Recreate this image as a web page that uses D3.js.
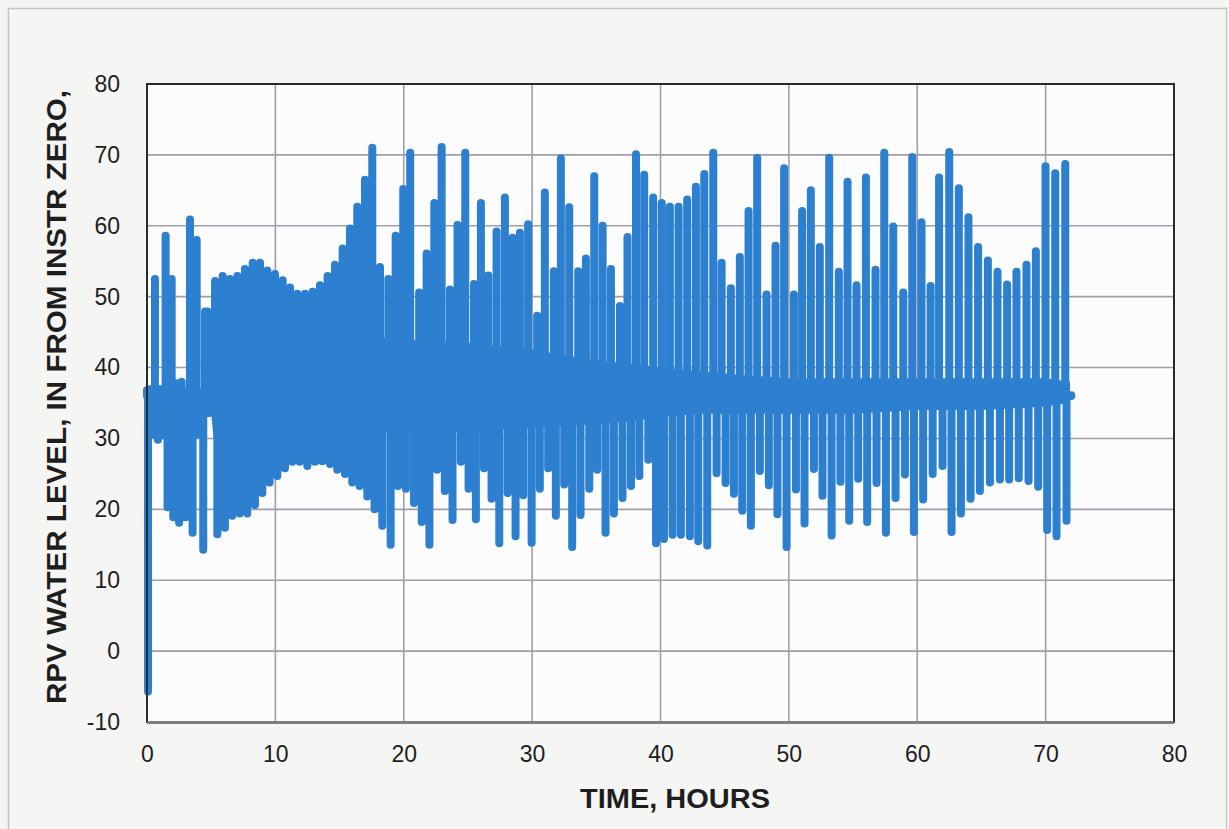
<!DOCTYPE html>
<html>
<head>
<meta charset="utf-8">
<script src="https://cdn.jsdelivr.net/npm/d3@7"></script>
<style>
    html, body { margin: 0; padding: 0; background: #f5f5f3; }
    svg { display: block; }
</style>
</head>
<body>
<div id="chart"></div>
<script>
// turning points of the water level trace (hours, inches)
var levelTimes = [
    0, 0.08, 0.62, 0.85, 1.25, 1.45, 1.6, 1.92, 2.05, 2.3, 2.5, 2.7, 3.0, 3.35, 3.55, 3.87, 4.38, 4.52, 4.62, 4.72, 4.85,
    5.30, 5.48, 5.89, 6.07, 6.46, 6.64, 7.04, 7.22, 7.63, 7.81, 8.23, 8.41, 8.80, 8.98, 9.37, 9.55, 9.97, 10.15,
    10.57, 10.75, 11.14, 11.32, 11.71, 11.89, 12.31, 12.49, 12.90, 13.08, 13.47, 13.65, 14.07, 14.25, 14.64, 14.82,
    15.24, 15.42, 15.81, 15.99, 16.38, 16.56, 16.98, 17.16, 17.55, 17.73, 18.15, 18.33, 18.80, 18.98, 19.37, 19.55,
    19.96, 20.17, 20.5, 20.8, 21.2, 21.4, 21.78, 22.0, 22.38, 22.6, 22.95, 23.2, 23.6, 23.8, 24.19, 24.45,
    24.79, 25.05, 25.47, 25.62, 26.01, 26.25, 26.58, 26.84, 27.23, 27.44, 27.88, 28.09, 28.48, 28.71, 29.05, 29.31,
    29.69, 29.96, 30.39, 30.6, 30.99, 31.25, 31.69, 31.85, 32.24, 32.5, 32.89, 33.12, 33.59, 33.77, 34.19, 34.45,
    34.84, 35.07, 35.49, 35.72, 36.14, 36.37, 36.84, 37.04, 37.43, 37.7, 38.09, 38.35, 38.73, 39.05, 39.43, 39.65,
    40.1, 40.27, 40.73, 40.94, 41.41, 41.59, 42.08, 42.29, 42.76, 42.94, 43.41, 43.64, 44.11, 44.37, 44.76, 45.07,
    45.48, 45.72, 46.18, 46.37, 46.86, 47.04, 47.53, 47.74, 48.26, 48.44, 48.96, 49.11, 49.63, 49.82, 50.39, 50.55,
    51.03, 51.22, 51.71, 51.95, 52.41, 52.62, 53.14, 53.33, 53.89, 54.02, 54.57, 54.70, 55.27, 55.40, 56.0, 56.1,
    56.75, 56.83, 57.43, 57.56, 58.13, 58.31, 58.91, 59.04, 59.61, 59.74, 60.33, 60.46, 61.04, 61.2, 61.7, 61.97,
    62.49, 62.67, 63.24, 63.4, 63.99, 64.15, 64.74, 64.88, 65.5, 65.66, 66.25, 66.44, 67.0, 67.16, 67.73, 67.91,
    68.51, 68.67, 69.24, 69.42, 69.99, 70.12, 70.75, 70.85, 71.53, 71.63, 72.0
];
var levelValues = [
    36.8, -5.7, 52.5, 29.8, 36, 58.6, 20.3, 52.5, 18.9, 37.8, 18.1, 38, 18.9, 60.9, 16.7, 58, 14.3, 47.9, 33.6, 47.9, 33.6,
    52.2, 16.5, 52.9, 17.4, 52.5, 19.1, 52.9, 19.4, 53.9, 19.4, 54.8, 20.6, 54.8, 22.3, 53.7, 23.8, 53.2, 24.7,
    52.3, 25.8, 51.3, 26.7, 50.4, 26.7, 50.4, 26.1, 50.7, 26.7, 51.6, 26.8, 52.9, 26.4, 54.5, 25.6,
    56.8, 25.0, 59.6, 23.8, 62.7, 23.3, 66.5, 21.8, 71.0, 20.0, 54.2, 17.7, 52.5, 15.0, 58.6, 23.3,
    65.2, 22.9, 70.3, 20.9, 50.6, 18.2, 56.1, 15.0, 63.2, 25.6, 71.1, 22.6, 51.0, 18.5, 60.1, 26.7,
    70.3, 22.9, 51.8, 18.6, 63.2, 25.8, 53.0, 21.5, 59.2, 15.2, 64.0, 22.3, 58.3, 16.2, 59.0, 22.0,
    60.2, 15.3, 47.3, 22.9, 64.7, 25.8, 53.6, 19.1, 69.5, 23.5, 62.6, 14.7, 53.6, 19.2, 55.4, 22.9,
    67.0, 25.6, 60.0, 16.7, 53.9, 19.4, 48.7, 21.6, 58.4, 23.3, 70.1, 24.7, 67.2, 27.0, 64.0, 15.2,
    63.2, 15.8, 62.7, 16.4, 62.7, 16.4, 63.7, 16.2, 65.5, 15.5, 67.3, 14.9, 70.3, 25.1, 54.8, 23.7,
    51.2, 22.2, 55.6, 19.8, 62.1, 17.7, 69.6, 25.4, 50.3, 23.4, 57.2, 19.3, 68.1, 14.7, 50.3, 22.8,
    62.1, 18.0, 65.0, 25.7, 57.0, 21.9, 69.6, 16.3, 53.5, 23.9, 66.2, 18.4, 51.6, 24.3, 66.8, 18.2,
    53.8, 23.7, 70.3, 16.7, 59.9, 21.6, 50.6, 24.9, 69.7, 16.8, 60.5, 21.4, 51.5, 25.0, 66.8, 26.1,
    70.4, 16.8, 65.3, 19.4, 61.2, 21.5, 57.0, 22.6, 55.1, 23.8, 53.5, 24.2, 51.7, 24.2, 53.5, 24.4,
    54.5, 24.0, 56.4, 23.2, 68.4, 17.1, 67.4, 16.2, 68.7, 18.4, 36.1
];
// level the trace keeps coming back to between excursions
var restLevel = 36;

// the dense middle band where the fast oscillation fills in solid
var bandTimes = [0.1, 1, 2, 3, 4.5, 4.7, 5.0, 5.3, 7, 9, 11, 13, 15, 17, 20, 25, 30, 35, 38, 40, 43, 46, 50, 55, 60, 65, 70, 71.9];
var bandLow   = [30, 30, 29.5, 30, 30, 33.5, 33.5, 28, 28, 29, 30, 30.5, 30.5, 31, 31, 31, 31.5, 32, 32.5, 33, 33.5, 33.5, 33.5, 33.5, 34, 34, 34.5, 35];
var bandHigh  = [37.5, 37.5, 37.5, 37, 37, 37, 38, 44, 45, 45.5, 45.5, 45.5, 45, 44.5, 44, 43.5, 42.5, 41, 40.5, 40, 39.5, 39, 38.5, 38.5, 38.5, 38.5, 38.5, 38];

var xTicks = [0, 10, 20, 30, 40, 50, 60, 70, 80];
var yTicks = [-10, 0, 10, 20, 30, 40, 50, 60, 70, 80];

var width = 1229, height = 829;
var plotLeft = 147, plotRight = 1174, plotTop = 84, plotBottom = 722;
var lineColor = "#2d7fcf";

var svg = d3.select("#chart")
    .append("svg")
    .attr("width", width)
    .attr("height", height);

// page frame of the scanned figure
svg.append("rect")
    .attr("x", 8.5)
    .attr("y", 8.5)
    .attr("width", 1218)
    .attr("height", 840)
    .attr("fill", "none")
    .attr("stroke", "#c4c4c4")
    .attr("stroke-width", 1.5);

var x = d3.scaleLinear().domain([0, 80]).range([plotLeft, plotRight]);
var y = d3.scaleLinear().domain([-10, 80]).range([plotBottom, plotTop]);

svg.append("rect")
    .attr("x", plotLeft)
    .attr("y", plotTop)
    .attr("width", plotRight - plotLeft)
    .attr("height", plotBottom - plotTop)
    .attr("fill", "#fcfcfc");

// grid
svg.append("g")
    .selectAll("line")
    .data(xTicks.slice(1, -1))
    .enter()
    .append("line")
    .attr("x1", d => x(d))
    .attr("x2", d => x(d))
    .attr("y1", plotTop)
    .attr("y2", plotBottom)
    .attr("stroke", "#a19eab")
    .attr("stroke-width", 1.6);

svg.append("g")
    .selectAll("line")
    .data(yTicks.slice(1, -1))
    .enter()
    .append("line")
    .attr("x1", plotLeft)
    .attr("x2", plotRight)
    .attr("y1", d => y(d))
    .attr("y2", d => y(d))
    .attr("stroke", "#a19eab")
    .attr("stroke-width", 1.6);

// middle band
var band = bandTimes.map((t, i) => ({ t: t, lo: bandLow[i], hi: bandHigh[i] }));
svg.append("path")
    .datum(band)
    .attr("fill", lineColor)
    .attr("d", d3.area()
        .x(d => x(d.t))
        .y0(d => y(d.lo))
        .y1(d => y(d.hi)));

// the trace: each excursion leaves the rest level and comes straight back
var points = [];
levelTimes.forEach(function (t, i) {
    points.push({ t: t, v: restLevel });
    points.push({ t: t, v: levelValues[i] });
    points.push({ t: t, v: restLevel });
});
svg.append("path")
    .datum(points)
    .attr("fill", "none")
    .attr("stroke", lineColor)
    .attr("stroke-width", 8)
    .attr("stroke-linejoin", "round")
    .attr("stroke-linecap", "round")
    .attr("d", d3.line()
        .x(d => x(d.t))
        .y(d => y(d.v)));

// plot border
svg.append("rect")
    .attr("x", plotLeft)
    .attr("y", plotTop)
    .attr("width", plotRight - plotLeft)
    .attr("height", plotBottom - plotTop)
    .attr("fill", "none")
    .attr("stroke", "#2a2a2a")
    .attr("stroke-width", 2);
svg.append("line")
    .attr("x1", plotLeft)
    .attr("x2", plotRight)
    .attr("y1", plotBottom + 0.5)
    .attr("y2", plotBottom + 0.5)
    .attr("stroke", "#7d7d7d")
    .attr("stroke-width", 3);

// axes
var xAxis = svg.append("g")
    .attr("transform", "translate(0," + plotBottom + ")")
    .call(d3.axisBottom(x).tickValues(xTicks).tickSize(0).tickPadding(24)
        .tickFormat(d => String(d)));
var yAxis = svg.append("g")
    .attr("transform", "translate(" + plotLeft + ",0)")
    .call(d3.axisLeft(y).tickValues(yTicks).tickSize(0).tickPadding(27)
        .tickFormat(d => String(d)));

[xAxis, yAxis].forEach(function (g) {
    g.select(".domain").remove();
    g.selectAll("text")
        .style("font-family", "'Liberation Sans', Arial, sans-serif")
        .style("font-size", "23px")
        .attr("fill", "#1e1e1e");
});

svg.append("text")
    .attr("x", 675)
    .attr("y", 808)
    .attr("text-anchor", "middle")
    .attr("textLength", 190)
    .attr("lengthAdjust", "spacingAndGlyphs")
    .style("font-family", "'Liberation Sans', Arial, sans-serif")
    .style("font-weight", "bold")
    .style("font-size", "27px")
    .attr("fill", "#1e1e1e")
    .text("TIME, HOURS");

svg.append("text")
    .attr("transform", "translate(66,397) rotate(-90)")
    .attr("text-anchor", "middle")
    .attr("textLength", 614)
    .attr("lengthAdjust", "spacingAndGlyphs")
    .style("font-family", "'Liberation Sans', Arial, sans-serif")
    .style("font-weight", "bold")
    .style("font-size", "28px")
    .attr("fill", "#1e1e1e")
    .text("RPV WATER LEVEL, IN FROM INSTR ZERO,");
</script>
</body>
</html>
